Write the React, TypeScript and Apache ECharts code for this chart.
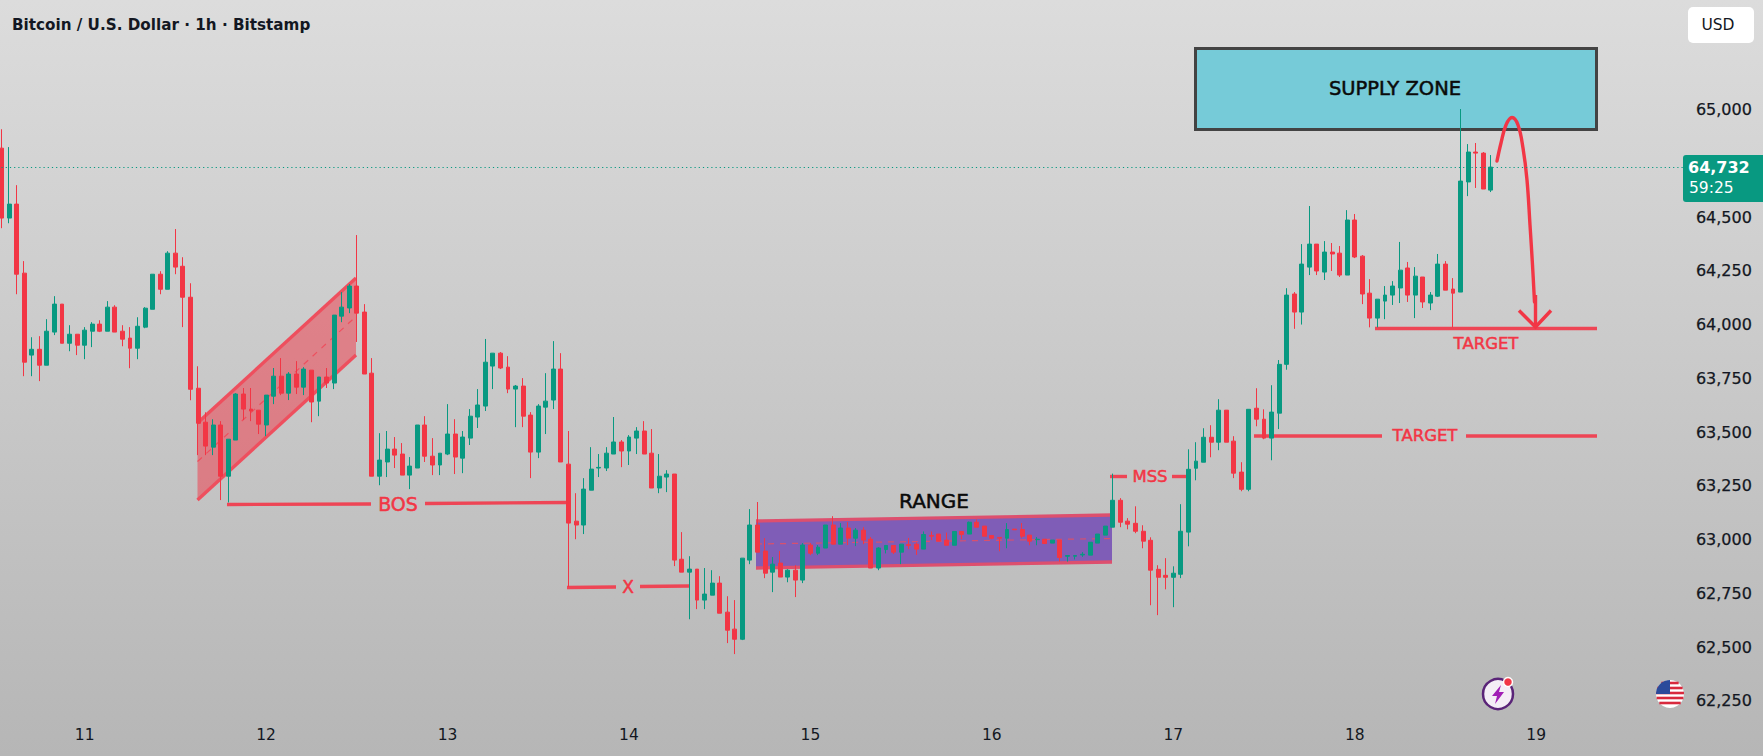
import React, { useEffect, useRef } from "react";
import * as echarts from "echarts";

const opens = [
  64820,64495,64560,64239,63858,63885,63811,63965,64095,63913,
  63955,63904,63969,64002,63969,64081,63969,63937,63890,63988,
  64071,64234,64164,64332,64271,64127,63704,63546,63430,63533,
  63295,63463,63677,63607,63602,63533,63667,63760,63681,63770,
  63709,63788,63644,63756,63728,64039,64077,64179,64058,63774,
  63295,63361,63421,63398,63300,63333,63533,63388,63347,63398,
  63491,63379,63472,63570,63621,63807,63867,63802,63700,63714,
  63579,63407,63616,63649,63793,63351,63086,63068,63230,63333,
  63333,63398,63454,63412,63472,63505,63402,63240,63291,63305,
  62909,62849,62863,62719,62742,62798,62663,62584,62537,62905,
  63068,62947,62849,62891,62826,62858,62812,62975,62937,62961,
  63068,62979,63054,63007,63044,63002,62868,62954,62973,62942,
  62977,62979,62956,63019,63026,62998,62974,63038,63026,63081,
  63063,63019,63010,63007,63049,63047,63021,63000,63002,62984,
  62998,62923,62923,62929,62928,62984,63021,63058,63183,63086,
  63076,63039,62997,62862,62834,62825,62839,63035,63332,63360,
  63476,63453,63602,63458,63314,63234,63611,63560,63472,63588,
  63815,64142,64058,64267,64374,64244,64337,64332,64230,64486,
  64318,64146,64030,64109,64137,64170,64263,64137,64221,64100,
  64132,64281,64165,64151,64663,64802,64797,64625,
];
const closes = [
  64495,64560,64234,63825,63885,63811,63969,64095,63913,63955,
  63904,63974,64002,63969,64081,63965,63932,63890,63992,64076,
  64234,64164,64332,64267,64127,63699,63541,63435,63533,63295,
  63467,63677,63607,63598,63537,63672,63760,63681,63770,63709,
  63793,63640,63756,63728,64044,64081,64179,64053,63770,63295,
  63370,63421,63393,63300,63342,63533,63388,63347,63402,63491,
  63384,63477,63574,63626,63825,63867,63798,63700,63714,63574,
  63407,63621,63644,63793,63361,63077,63068,63235,63328,63336,
  63402,63454,63412,63477,63505,63398,63240,63295,63305,62905,
  62849,62863,62719,62747,62798,62658,62579,62537,62914,63068,
  62942,62844,62886,62826,62858,62812,62975,62937,62965,63068,
  62979,63054,63007,63044,62998,62868,62961,62973,62942,62979,
  62973,62956,63024,63016,62993,62974,63038,63024,63081,63058,
  63016,63007,63007,63047,63046,63016,62993,63002,62982,62998,
  62917,62926,62926,62932,62988,63026,63063,63183,63081,63072,
  63039,62993,62858,62825,62825,62844,63039,63327,63365,63476,
  63453,63602,63453,63309,63234,63606,63560,63472,63593,63815,
  64137,64058,64281,64374,64249,64337,64328,64230,64486,64314,
  64142,64030,64118,64137,64179,64253,64137,64225,64105,64137,
  64281,64160,64146,64667,64802,64797,64630,64732,
];
const lows = [
  64448,64471,64141,63760,63760,63737,63811,63951,63913,63876,
  63858,63839,63895,63965,63969,63965,63899,63797,63839,63983,
  64071,64141,64164,64234,63988,63648,63393,63393,63393,63184,
  63173,63463,63556,63551,63491,63481,63630,63672,63649,63677,
  63672,63546,63574,63705,63700,64011,64053,63919,63770,63295,
  63253,63291,63333,63300,63235,63333,63361,63300,63300,63393,
  63305,63309,63440,63519,63598,63700,63793,63681,63523,63523,
  63286,63379,63491,63607,63361,62780,63002,63026,63230,63291,
  63319,63398,63337,63347,63398,63398,63240,63216,63221,62877,
  62849,62630,62677,62677,62742,62658,62519,62468,62533,62886,
  62942,62821,62756,62826,62802,62733,62798,62928,62928,62961,
  62979,62979,62975,62970,62979,62868,62858,62936,62933,62886,
  62956,62929,62956,62998,62993,62974,62974,63002,63026,63058,
  63016,63002,62946,62960,63046,63007,62974,62974,62982,62984,
  62898,62898,62908,62920,62928,62984,63021,63058,63058,63048,
  63030,62960,62695,62649,62769,62686,62821,62969,63276,63360,
  63383,63416,63453,63286,63225,63225,63527,63467,63369,63514,
  63790,63980,64000,64230,64230,64207,64249,64221,64230,64309,
  64095,63987,63987,64025,64091,64100,64105,64030,64077,64067,
  64128,64160,63987,64151,64597,64635,64630,64616,
];
const highs = [
  64908,64825,64648,64295,63941,63946,64025,64132,64095,63997,
  63955,63988,64011,64020,64109,64090,63997,63988,64034,64081,
  64234,64248,64341,64444,64313,64192,63806,63592,63560,63551,
  63467,63681,63705,63705,63602,63672,63798,63844,63779,63830,
  63802,63788,63756,63798,64044,64151,64188,64416,64095,63844,
  63495,63505,63477,63449,63384,63533,63574,63472,63402,63630,
  63560,63505,63607,63700,63933,63867,63872,63853,63719,63751,
  63593,63630,63774,63923,63867,63505,63216,63286,63430,63398,
  63430,63570,63463,63486,63523,63551,63514,63398,63323,63305,
  63035,62923,62863,62868,62858,62830,62737,62719,62914,63142,
  63175,63007,62919,62947,62863,62881,62984,62984,62975,63068,
  63109,63077,63082,63054,63058,63012,62965,62973,62973,62979,
  63008,62987,63038,63038,63026,63033,63038,63038,63084,63094,
  63063,63019,63010,63077,63049,63077,63021,63012,63002,62998,
  62998,62926,62926,62942,62988,63026,63063,63307,63193,63100,
  63155,63067,63011,62881,62914,62876,63165,63420,63453,63518,
  63532,63653,63602,63481,63360,63606,63704,63606,63718,63835,
  64169,64151,64374,64551,64374,64388,64379,64365,64532,64514,
  64323,64211,64118,64179,64202,64384,64291,64267,64221,64151,
  64328,64295,64216,65002,64839,64844,64802,64788,
];

const dayIndex = [11, 35, 59, 83, 107, 131, 155, 179, 203];
const dayLabels = ["11", "12", "13", "14", "15", "16", "17", "18", "19"];
const priceLabels = [62250, 62500, 62750, 63000, 63250, 63500, 63750, 64000, 64250, 64500, 65000];
const barCount = 224;
const lastPrice = 64732;
const title = "Bitcoin / U.S. Dollar · 1h · Bitstamp";

const RED = "#f23645";
const GREEN = "#089981";
const UI_FONT = '"DejaVu Sans"';

const categories: string[] = [];
for (let i = 0; i < barCount; i++) {
  const k = dayIndex.indexOf(i);
  categories.push(k >= 0 ? dayLabels[k] : `h${i}`);
}
const candles = opens.map((o, i) => [o, closes[i], lows[i], highs[i]]);

const ln = (x1: number, y1: number, x2: number, y2: number, stroke: string, lineWidth = 3, extra: any = {}) => ({
  type: "line",
  shape: { x1, y1, x2, y2 },
  style: { stroke, lineWidth, ...extra },
  silent: true,
});
const label = (text: string, x: number, y: number, fill: string, fontSize: number, extra: any = {}) => ({
  type: "text",
  silent: true,
  style: { text, x, y, fill, fontSize, fontFamily: UI_FONT, align: "center", verticalAlign: "middle", ...extra },
});
const heavy = (c: string) => ({ stroke: c, lineWidth: 0.5 });

function annotations() {
  const els: any[] = [];
  // flag
  els.push({
    type: "polygon",
    silent: true,
    shape: { points: [[197.5, 423], [356, 278], [356, 355], [197.5, 500]] },
    style: { fill: "rgba(242,54,69,0.5)" },
  });
  els.push(ln(197.5, 423, 356, 278, "#ee4f5e", 3.4));
  els.push(ln(197.5, 500, 356, 355, "#ee4f5e", 3.4));
  els.push(ln(197.5, 461.5, 356, 316.5, "#ee4f5e", 1.2, { lineDash: [6, 6] }));
  // range
  els.push({
    type: "polygon",
    silent: true,
    shape: { points: [[756, 521], [1112, 515], [1112, 562], [756, 568]] },
    style: { fill: "#7f5db7" },
  });
  els.push(ln(756, 521, 1112, 515, "#dd4f6e", 3.4));
  els.push(ln(756, 568, 1112, 562, "#dd4f6e", 3.4));
  els.push(ln(756, 544, 1112, 538.5, "#d8506e", 1.2, { lineDash: [6, 6] }));
  els.push(label("RANGE", 934, 500.5, "#0a0a0a", 20, heavy("#0a0a0a")));
  // BOS
  els.push(ln(227, 504.5, 371, 504, "#ee4555", 3.4));
  els.push(ln(425, 503.5, 567, 502.5, "#ee4555", 3.4));
  els.push(label("BOS", 398, 503.5, RED, 19, heavy(RED)));
  // X
  els.push(ln(567, 587.5, 616, 587, "#ee4555", 3.4));
  els.push(ln(640, 586.5, 689, 586, "#ee4555", 3.4));
  els.push(label("X", 628, 587, RED, 17, heavy(RED)));
  // MSS
  els.push(ln(1110, 476.5, 1127, 476.5, "#ee4555", 3.4));
  els.push(ln(1172, 476.5, 1186, 476.5, "#ee4555", 3.4));
  els.push(label("MSS", 1150, 476.5, RED, 16.5, heavy(RED)));
  // targets
  els.push(ln(1254, 436, 1382, 436, "#ee4555", 3.4));
  els.push(ln(1466, 436, 1597, 436, "#ee4555", 3.4));
  els.push(label("TARGET", 1425, 435.5, RED, 16.5, heavy(RED)));
  els.push(ln(1375, 328.5, 1597, 328.5, "#ee4555", 3.4));
  els.push(label("TARGET", 1486, 343, RED, 16.5, heavy(RED)));
  // supply zone
  els.push({
    type: "rect",
    silent: true,
    shape: { x: 1195.5, y: 48.5, width: 401, height: 81 },
    style: { fill: "#76cbd8", stroke: "#434343", lineWidth: 3 },
  });
  els.push(label("SUPPLY ZONE", 1395, 88.5, "#0a0a0a", 19.5, heavy("#0a0a0a")));
  // arrow
  els.push({
    type: "polyline",
    silent: true,
    shape: {
      points: [[1497, 161], [1501, 143], [1506, 125], [1512, 117.5], [1518, 125], [1523, 148], [1527, 180], [1530, 225], [1532.5, 265], [1534.5, 302]],
      smooth: 0.4,
    },
    style: { stroke: RED, lineWidth: 3.4, fill: "none", lineCap: "round" },
  });
  els.push(ln(1535.5, 295, 1535.5, 327, RED, 3.4));
  els.push({
    type: "polyline",
    silent: true,
    shape: { points: [[1519, 310.5], [1535.5, 327], [1551, 310.5]] },
    style: { stroke: RED, lineWidth: 3.4, fill: "none" },
  });
  // title
  els.push(label(title, 12, 24.5, "#131722", 15.2, { align: "left", fontWeight: "bold" }));
  // USD button
  els.push({
    type: "rect",
    silent: true,
    z: 5,
    shape: { x: 1688, y: 7, width: 66, height: 36, r: 5 },
    style: { fill: "#ffffff" },
  });
  els.push({ ...label("USD", 1718, 25, "#131722", 15.5), z: 6 });
  // last price tag
  els.push({
    type: "rect",
    silent: true,
    z: 5,
    shape: { x: 1683, y: 155, width: 80, height: 47, r: [3, 0, 0, 3] },
    style: { fill: GREEN },
  });
  els.push({ ...label("64,732", 1688, 167, "#ffffff", 16, { fontWeight: "bold", align: "left" }), z: 6 });
  els.push({ ...label("59:25", 1689, 188, "#ffffff", 15.5, { align: "left" }), z: 6 });
  // lightning badge
  els.push({ type: "circle", silent: true, shape: { cx: 1498, cy: 694, r: 15 }, style: { fill: "#f4eef6", stroke: "#5a2478", lineWidth: 2.5 } });
  els.push({
    type: "polygon",
    silent: true,
    shape: { points: [[1501, 685], [1492, 696], [1497, 696], [1495, 704], [1504, 692], [1499, 692]] },
    style: { fill: "#a11fb5" },
  });
  els.push({ type: "circle", silent: true, shape: { cx: 1508, cy: 682, r: 4.5 }, style: { fill: RED, stroke: "#ffffff", lineWidth: 1.5 } });
  // flag badge
  const cx = 1670, cy = 694, r = 14;
  els.push({ type: "circle", silent: true, shape: { cx, cy, r }, style: { fill: "#ffffff" } });
  for (const dy of [-11, -6, -1, 4, 9]) {
    const half = Math.sqrt(Math.max(0, r * r - dy * dy));
    els.push(ln(cx - half, cy + dy, cx + half, cy + dy, "#d8293d", 2.6));
  }
  els.push({ type: "sector", silent: true, shape: { cx, cy, r0: 0, r, startAngle: Math.PI, endAngle: Math.PI * 1.5 }, style: { fill: "#2b4a9b" } });
  return els;
}

export default function App() {
  const ref = useRef<HTMLDivElement>(null);
  useEffect(() => {
    const chart = echarts.init(ref.current!, undefined, { renderer: "svg" });
    chart.setOption({
      animation: false,
      backgroundColor: new echarts.graphic.LinearGradient(0, 0, 0, 1, [
        { offset: 0, color: "#dcdcdc" },
        { offset: 1, color: "#b6b6b6" },
      ]),
      grid: { left: 1.5, top: 1.9, width: 1685.88, height: 752.85, containLabel: false },
      xAxis: {
        type: "category",
        data: categories,
        boundaryGap: false,
        axisLine: { show: false },
        axisTick: { show: false },
        splitLine: { show: false },
        axisLabel: {
          inside: true,
          margin: 12,
          color: "#131722",
          fontSize: 15.5,
          fontFamily: UI_FONT,
          interval: (i: number) => dayIndex.includes(i),
          hideOverlap: false,
        },
      },
      yAxis: {
        type: "value",
        position: "right",
        min: 62000,
        max: 65500,
        interval: 250,
        axisLine: { show: false },
        axisTick: { show: false },
        splitLine: { show: false },
        axisLabel: {
          color: "#131722",
          fontSize: 16,
          fontFamily: UI_FONT,
          margin: 8.5,
          textBorderColor: "#131722",
          textBorderWidth: 0.25,
          formatter: (v: number) => (priceLabels.includes(v) ? v.toLocaleString("en-US") : ""),
        },
      },
      graphic: { elements: annotations() },
      series: [
        {
          type: "candlestick",
          data: candles,
          barWidth: 4.4,
          z: 3,
          clip: false,
          itemStyle: {
            color: GREEN,
            color0: RED,
            borderColor: GREEN,
            borderColor0: RED,
            borderColorDoji: GREEN,
            borderWidth: 1,
          },
          markLine: {
            silent: true,
            symbol: "none",
            animation: false,
            label: { show: false },
            lineStyle: { color: GREEN, type: [1.2, 3], width: 1.2 },
            data: [{ yAxis: lastPrice }],
          },
        },
      ],
    });
    return () => chart.dispose();
  }, []);
  return <div ref={ref} style={{ position: "fixed", left: 0, top: 0, width: 1763, height: 756 }} />;
}
